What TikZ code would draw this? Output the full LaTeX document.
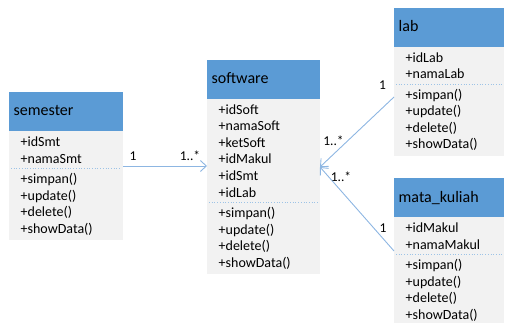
\documentclass[tikz,border=0pt]{standalone}
\usepackage{fontspec}
\setmainfont{Carlito}
\usetikzlibrary{arrows.meta,calc}
\definecolor{hdr}{HTML}{5B9BD5}
\definecolor{bdy}{HTML}{F2F2F2}
\definecolor{sepc}{HTML}{9DC3E6}
\definecolor{conn}{HTML}{8DB6E2}
\tikzset{
 hdrbox/.style={draw=none,fill=hdr,inner sep=0,outer sep=0,anchor=north west,minimum height=39pt},
 bdybox/.style={draw=none,fill=bdy,inner sep=0,outer sep=0,anchor=north west},
 titletext/.style={anchor=base west,inner sep=0,font=\fontsize{16}{18}\selectfont},
 member/.style={anchor=base west,inner sep=0,font=\fontsize{14}{16}\selectfont},
 mult/.style={inner sep=0,font=\fontsize{13.5}{15}\selectfont},
 assoc/.style={draw=conn,line width=0.9pt,-{Straight Barb[length=6pt,width=11pt]}},
 sepline/.style={draw=sepc,dotted,line width=0.7pt}
}
% #1 name, #2 x, #3 ytop, #4 width, #5 title, #6 attrs, #7 nattrs, #8 methods
\newcommand\umlclassbox[8]{%
 \node[hdrbox,minimum width=#4pt] (#1H) at (#2,#3) {};
 \pgfmathsetmacro\bodyh{92.5+(#7-1)*16.5}
 \node[bdybox,minimum width=#4pt,minimum height=\bodyh pt] (#1B) at (#2,#3+39) {};
 \node[titletext] (#1T) at (#2+4.5,#3+24) {#5};
 \foreach \t [count=\i] in {#6} {\node[member] (#1a\i) at (#2+11.5,#3+39+15.5+\i*16.5-16.5) {\t};}
 \pgfmathsetmacro\sepy{#3+39+15.5+(#7-1)*16.5+5.5}
 \draw[sepline] (#2+2,\sepy) -- (#2+#4-2,\sepy);
 \foreach \t [count=\i] in {#8} {\node[member] (#1m\i) at (#2+11.5,\sepy+15+\i*16.5-16.5) {\t};}
}
\begin{document}
\begin{tikzpicture}[x=1pt,y=-1pt]
\useasboundingbox (0,0) rectangle (505,323);
\umlclassbox{sem}{9}{92}{114}{semester}{+idSmt,+namaSmt}{2}{+simpan(),+update(),+delete(),+showData()}
\umlclassbox{sw}{207}{60}{113}{software}{+idSoft,+namaSoft,+ketSoft,+idMakul,+idSmt,+idLab}{6}{+simpan(),+update(),+delete(),+showData()}
\umlclassbox{lab}{394}{8}{110}{lab}{+idLab,+namaLab}{2}{+simpan(),+update(),+delete(),+showData()}
\umlclassbox{mk}{394}{178}{110}{mata\_kuliah}{+idMakul,+namaMakul}{2}{+simpan(),+update(),+delete(),+showData()}
\draw[assoc] ($(semB.north east)+(0,35)$) -- ($(swB.north west)+(0,67)$);
\draw[assoc] ($(labB.north west)+(0,50)$) -- ($(swB.north east)+(0,68)$);
\draw[assoc] ($(mkB.north west)+(0,34)$) -- ($(swB.north east)+(0,68)$);
\node[mult] (m1) at (133,156) {1};
\node[mult] (m2) at (190,156) {1..*};
\node[mult] (m3) at (382.5,85) {1};
\node[mult] (m4) at (333.5,141) {1..*};
\node[mult] (m5) at (383,228) {1};
\node[mult] (m6) at (341,177) {1..*};
\end{tikzpicture}
\end{document}
